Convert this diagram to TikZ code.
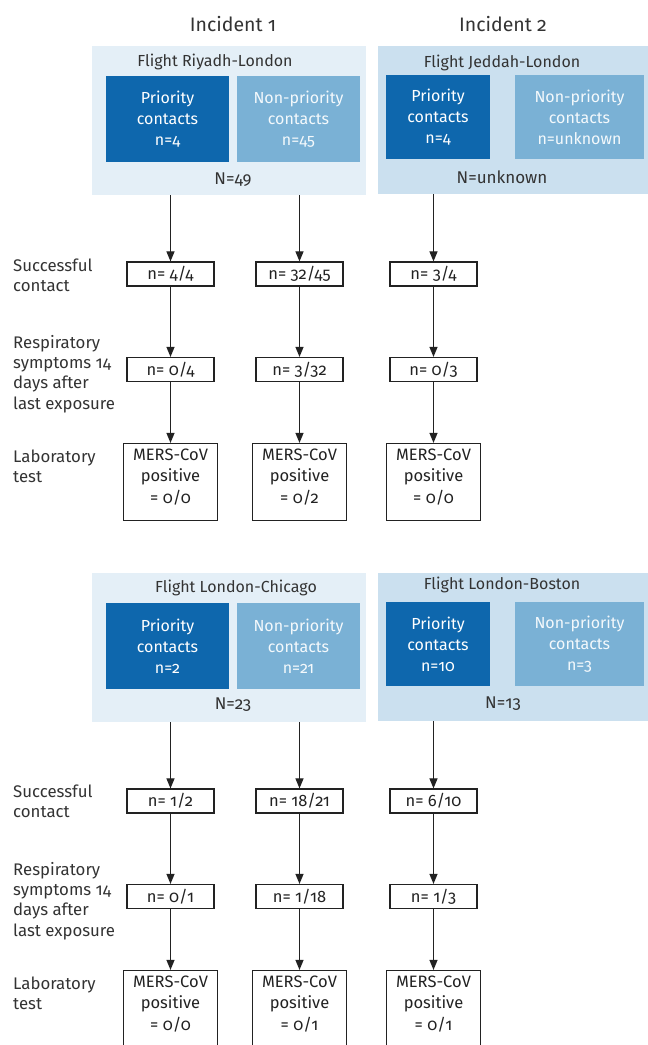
\documentclass[tikz,border=0pt]{standalone}
\usepackage{fontspec}
\setmainfont{Fira Sans}[Numbers=OldStyle]
\usetikzlibrary{arrows.meta}
\definecolor{panelA}{HTML}{E4EFF7}
\definecolor{panelB}{HTML}{CBE0EF}
\definecolor{darkbox}{HTML}{0E67AD}
\definecolor{midbox}{HTML}{7AB1D5}
\definecolor{txt}{HTML}{333333}
\definecolor{linec}{HTML}{222222}
\begin{document}
\begin{tikzpicture}[x=1pt,y=-1pt,
  every node/.style={font=\fontsize{16}{21}\selectfont, text=txt, inner sep=0pt},
  panelL/.style={fill=panelA, anchor=north west, minimum width=274pt, minimum height=149pt},
  panelR/.style={fill=panelB, anchor=north west, minimum width=285pt, minimum height=148pt},
  incident/.style={font=\fontsize{19.5}{22}\selectfont},
  darkc/.style={fill=darkbox, text=white, align=center},
  midc/.style={fill=midbox, text=white!92!midbox, align=center},
  rowlab/.style={anchor=west, align=left, font=\fontsize{16.8}{20.3}\selectfont},
  cnt/.style={draw=linec, line width=1.2pt, minimum width=87pt, minimum height=24pt, text=linec, font=\fontsize{16.5}{21}\selectfont},
  mers/.style={draw=linec, line width=1.2pt, minimum width=94pt, minimum height=77pt},
  merstext/.style={anchor=north, yshift=-5.5pt, align=center, text=linec, font=\fontsize{16.5}{21.8}\selectfont},
  arr/.style={draw=linec, line width=1.1pt, -{Triangle[length=10pt,width=8pt]}}
]
\useasboundingbox (0,0) rectangle (648,1045);
\clip (0,0) rectangle (648,1045);

\node[incident] (inc1) at (233,24) {Incident 1};
\node[incident] (inc2) at (503,24) {Incident 2};

% ---------- top half ----------
\node[panelL] (pL1) at (92,46) {};
\node[panelR] (pR1) at (378,46) {};
\node (tL1) at (215,62) {Flight Riyadh-London};
\node (tR1) at (502,63) {Flight Jeddah-London};
\node[darkc, minimum width=123pt, minimum height=86pt] (dL1) at (167.5,119) {Priority\\contacts\\n=4};
\node[midc, minimum width=123pt, minimum height=86pt] (mL1) at (298.5,119) {Non-priority\\contacts\\n=45};
\node[darkc, minimum width=104pt, minimum height=84pt] (dR1) at (438,117) {Priority\\contacts\\n=4};
\node[midc, minimum width=129pt, minimum height=84pt] (mR1) at (579.5,117) {Non-priority\\contacts\\n=unknown};
\node[font=\fontsize{17}{21}\selectfont] (NL1) at (233,180) {N=49};
\node[font=\fontsize{17}{21}\selectfont] (NR1) at (502,177) {N=unknown};

\node[rowlab] (lab1a) at (13,275) {Successful\\contact};
\node[rowlab] (lab1b) at (13,374) {Respiratory\\symptoms 14\\days after\\last exposure};
\node[rowlab] (lab1c) at (13,466) {Laboratory\\test};

\node[cnt] (s11) at (170.5,274) {n= 4/4};
\node[cnt] (s12) at (299.5,274) {n= 32/45};
\node[cnt] (s13) at (433.5,274) {n= 3/4};
\node[cnt] (r11) at (170.5,369.5) {n= 0/4};
\node[cnt] (r12) at (299.5,369.5) {n= 3/32};
\node[cnt] (r13) at (433.5,369.5) {n= 0/3};
\node[mers, label={[merstext]north:MERS-CoV\\positive\\= 0/0}] (m11) at (170.5,482) {};
\node[mers, label={[merstext]north:MERS-CoV\\positive\\= 0/2}] (m12) at (299.5,482) {};
\node[mers, label={[merstext]north:MERS-CoV\\positive\\= 0/0}] (m13) at (433.5,482) {};

\draw[arr] (pL1.south -| s11) -- (s11);
\draw[arr] (pL1.south -| s12) -- (s12);
\draw[arr] (pR1.south -| s13) -- (s13);
\draw[arr] (s11) -- (r11);
\draw[arr] (s12) -- (r12);
\draw[arr] (s13) -- (r13);
\draw[arr] (r11) -- (m11);
\draw[arr] (r12) -- (m12);
\draw[arr] (r13) -- (m13);

% ---------- bottom half ----------
\begin{scope}[yshift=-527pt]
\node[panelL] (pL2) at (92,46) {};
\node[panelR] (pR2) at (378,46) {};
\node (tL2) at (236,61) {Flight London-Chicago};
\node (tR2) at (502,58) {Flight London-Boston};
\node[darkc, minimum width=123pt, minimum height=86pt] (dL2) at (167.5,119) {Priority\\contacts\\n=2};
\node[midc, minimum width=123pt, minimum height=86pt] (mL2) at (298.5,119) {Non-priority\\contacts\\n=21};
\node[darkc, minimum width=104pt, minimum height=84pt] (dR2) at (438,117) {Priority\\contacts\\n=10};
\node[midc, minimum width=129pt, minimum height=84pt] (mR2) at (579.5,117) {Non-priority\\contacts\\n=3};
\node[font=\fontsize{17}{21}\selectfont] (NL2) at (233,178) {N=23};
\node[font=\fontsize{17}{21}\selectfont] (NR2) at (503,177) {N=13};

\node[rowlab] (lab2a) at (13,274) {Successful\\contact};
\node[rowlab] (lab2b) at (13,374) {Respiratory\\symptoms 14\\days after\\last exposure};
\node[rowlab] (lab2c) at (13,466) {Laboratory\\test};

\node[cnt] (s21) at (170.5,274) {n= 1/2};
\node[cnt] (s22) at (299.5,274) {n= 18/21};
\node[cnt] (s23) at (433.5,274) {n= 6/10};
\node[cnt] (r21) at (170.5,369.5) {n= 0/1};
\node[cnt] (r22) at (299.5,369.5) {n= 1/18};
\node[cnt] (r23) at (433.5,369.5) {n= 1/3};
\node[mers, label={[merstext]north:MERS-CoV\\positive\\= 0/0}] (m21) at (170.5,482) {};
\node[mers, label={[merstext]north:MERS-CoV\\positive\\= 0/1}] (m22) at (299.5,482) {};
\node[mers, label={[merstext]north:MERS-CoV\\positive\\= 0/1}] (m23) at (433.5,482) {};

\draw[arr] (pL2.south -| s21) -- (s21);
\draw[arr] (pL2.south -| s22) -- (s22);
\draw[arr] (pR2.south -| s23) -- (s23);
\draw[arr] (s21) -- (r21);
\draw[arr] (s22) -- (r22);
\draw[arr] (s23) -- (r23);
\draw[arr] (r21) -- (m21);
\draw[arr] (r22) -- (m22);
\draw[arr] (r23) -- (m23);
\end{scope}
\end{tikzpicture}
\end{document}
